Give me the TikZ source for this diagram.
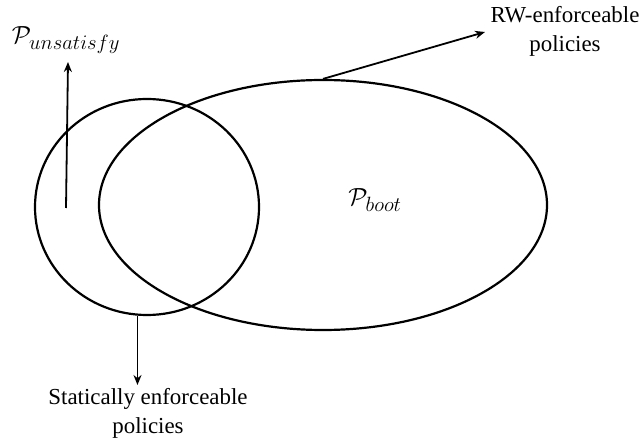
\documentclass[tikz,border=0pt]{standalone}
\usepackage{fontspec}
\setmainfont{Liberation Serif}
\usetikzlibrary{arrows.meta,shapes.geometric}
\begin{document}
\begin{tikzpicture}[x=1bp,y=-1bp,
  setline/.style={draw, line width=2.2bp},
  pointer/.style={line width=1.8bp, -{Stealth[length=10bp,width=8bp]}},
  caption/.style={align=center, font=\fontsize{23}{29}\selectfont, inner sep=0pt},
  setlabel/.style={font=\fontsize{29}{34}\selectfont, inner sep=0pt}]
  \useasboundingbox (0,0) rectangle (641,444);
  % the two overlapping policy sets
  \node[setline, ellipse, minimum width=224bp, minimum height=216bp, inner sep=0pt] (static) at (147,207) {};
  \node[setline, ellipse, minimum width=448bp, minimum height=250bp, inner sep=0pt] (boot) at (323,205) {};
  \node[setlabel] (bootlabel) at (375,200) {$\mathcal{P}_{boot}$};
  % labels outside the sets
  \node[setlabel] (unsat) at (66,40) {$\mathcal{P}_{unsatisfy}$};
  \node[caption] (rw) at (565,31) {RW-enforceable\\policies};
  \node[caption] (stat) at (148,413) {Statically enforceable\\policies};
  % pointers
  \coordinate (unsatfoot) at (66,208);
  \draw[pointer] (unsatfoot) -- (68,62);
  \draw[pointer] (boot.north) -- (485,32);
  \draw[pointer] (static.265) -- (static.265 |- 0,385);
\end{tikzpicture}
\end{document}
